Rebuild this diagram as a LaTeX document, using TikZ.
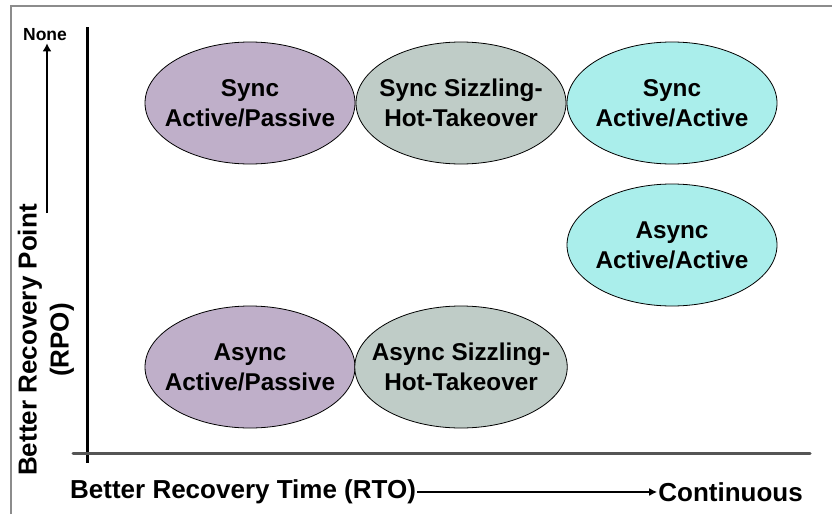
\documentclass[tikz,border=0pt]{standalone}
\usepackage{fontspec}
\setmainfont{Liberation Sans}
\usetikzlibrary{shapes.geometric, arrows.meta, positioning}
\definecolor{planPurple}{HTML}{BFAFC9}
\definecolor{planGray}{HTML}{BFCCC7}
\definecolor{planCyan}{HTML}{AAEEEB}
\definecolor{frameGray}{HTML}{8C8C8C}
\definecolor{axisGray}{HTML}{555555}

\tikzset{
  plan/.style={ellipse, draw=black, line width=0.8pt, minimum width=210pt,
    minimum height=122pt, inner sep=-14pt, align=center,
    font=\fontsize{24.3}{30}\selectfont\bfseries},
  axislabel/.style={font=\fontsize{26}{32}\selectfont\bfseries, inner sep=1pt},
}

\begin{document}
\begin{tikzpicture}[x=1pt, y=-1pt]
  \useasboundingbox (0,0) rectangle (832,514);
  % Frame
  \draw[frameGray, line width=1.2pt] (11,514) -- (11,6) -- (832,6);

  % Axes
  \draw[black, line width=3pt] (87,27) -- (87,463);
  \draw[axisGray, line width=3pt, line cap=round] (73,453) -- (810,453);

  % Sync row
  \node[plan, fill=planPurple] (syncAP) at (250,103) {Sync\\Active/Passive};
  \node[plan, fill=planGray] (syncSHT) at (461,103) {Sync Sizzling-\\Hot-Takeover};
  \node[plan, fill=planCyan] (syncAA) at (672,103) {Sync\\Active/Active};

  % Async plans
  \node[plan, fill=planCyan] (asyncAA) at (672,245) {Async\\Active/Active};
  \node[plan, fill=planPurple] (asyncAP) at (250,367) {Async\\Active/Passive};
  \node[plan, fill=planGray] (asyncSHT) at (461,367) {Async Sizzling-\\Hot-Takeover};

  % RPO axis label
  \node[axislabel, rotate=90, align=center] (rpo) at (46,340) {Better Recovery Point\\(RPO)};
  \node[font=\fontsize{17.5}{17.5}\selectfont\bfseries, inner sep=2pt] (none) at (45,35) {None};
  \coordinate (rpoTop) at (47,213);
  \draw[-{Latex[length=8pt,width=9pt]}, line width=2.5pt] (rpoTop) -- (rpoTop |- none.south);

  % RTO axis label
  \node[axislabel, anchor=west] (rto) at (69,492) {Better Recovery Time (RTO)};
  \node[axislabel, anchor=east] (cont) at (804,492) {Continuous};
  \draw[-{Latex[length=8pt,width=8pt]}, line width=1.8pt] (rto) -- (cont);
\end{tikzpicture}
\end{document}
